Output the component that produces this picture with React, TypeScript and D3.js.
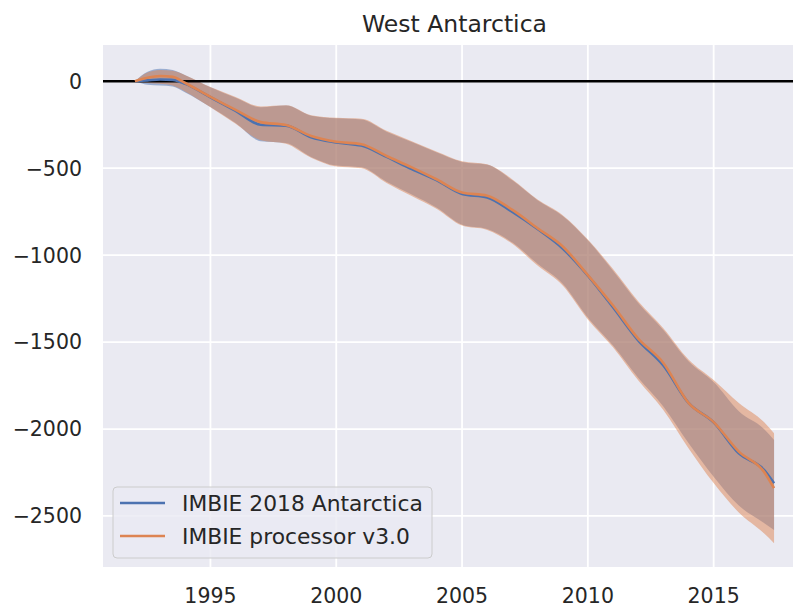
import React, { useEffect, useRef } from "react";
import * as d3 from "d3";

// time axis (decimal years)
const years = [1992, 1992.5, 1993, 1993.5, 1994, 1995, 1996, 1997, 1998, 1999, 2000, 2001, 2002, 2003, 2004, 2005, 2006, 2007, 2008, 2009, 2010, 2011, 2012, 2013, 2014, 2015, 2016, 2017, 2017.4];

// IMBIE 2018 Antarctica - cumulative mass change (Gt) with upper / lower bounds
const imbie2018 = [0, 5, 10, 8, -15, -92, -170, -250, -255, -322, -352, -370, -435, -505, -570, -648, -668, -752, -850, -962, -1118, -1300, -1490, -1635, -1850, -1962, -2140, -2235, -2312];
const imbie2018Hi = [0, 55, 72, 65, 35, -35, -95, -150, -140, -198, -213, -220, -290, -350, -410, -464, -480, -570, -684, -775, -915, -1090, -1275, -1430, -1610, -1730, -1898, -2000, -2063];
const imbie2018Lo = [0, -20, -25, -30, -65, -148, -240, -345, -355, -435, -485, -495, -578, -652, -728, -825, -850, -928, -1050, -1165, -1360, -1520, -1705, -1870, -2080, -2274, -2440, -2540, -2580];

// IMBIE processor v3.0
const processor = [0, 20, 30, 25, -10, -90, -165, -235, -252, -315, -348, -362, -430, -495, -565, -640, -658, -740, -845, -950, -1115, -1290, -1480, -1620, -1850, -1960, -2130, -2245, -2340];
const processorHi = [0, 50, 65, 60, 35, -33, -90, -145, -138, -195, -210, -215, -285, -345, -405, -460, -478, -565, -680, -770, -910, -1080, -1265, -1420, -1600, -1718, -1850, -1960, -2025];
const processorLo = [0, -10, -15, -25, -60, -150, -245, -340, -360, -440, -490, -500, -585, -660, -735, -830, -855, -935, -1060, -1175, -1370, -1530, -1720, -1890, -2110, -2311, -2480, -2600, -2657];

const xTicks = [1995, 2000, 2005, 2010, 2015];
const yTicks = [0, -500, -1000, -1500, -2000, -2500];
const seriesNames = ["IMBIE 2018 Antarctica", "IMBIE processor v3.0"];

const W = 793;
const H = 609;

const App = () => {
  const ref = useRef(null);

  useEffect(() => {
    const svg = d3.select(ref.current);
    svg.selectAll("*").remove();

    const left = 103, right = 806, top = 45, bottom = 567;

    const series = [
      { name: seriesNames[0], v: imbie2018, hi: imbie2018Hi, lo: imbie2018Lo, color: "#4C72B0" },
      { name: seriesNames[1], v: processor, hi: processorHi, lo: processorLo, color: "#DD8452" },
    ];

    const xExt = d3.extent(years);
    const xm = (xExt[1] - xExt[0]) * 0.05;
    const yMin = d3.min(series.flatMap(s => s.lo));
    const yMax = d3.max(series.flatMap(s => s.hi));
    const ym = (yMax - yMin) * 0.05;

    const x = d3.scaleLinear().domain([xExt[0] - xm, xExt[1] + xm]).range([left, right]);
    const y = d3.scaleLinear().domain([yMin - ym, yMax + ym]).range([bottom, top]);

    svg.append("rect")
      .attr("x", left).attr("y", top)
      .attr("width", right - left).attr("height", bottom - top)
      .attr("fill", "#EAEAF2");

    // grid
    svg.append("g").selectAll("line").data(xTicks).enter().append("line")
      .attr("x1", d => x(d)).attr("x2", d => x(d))
      .attr("y1", top).attr("y2", bottom)
      .attr("stroke", "#fff").attr("stroke-width", 1.8);
    svg.append("g").selectAll("line").data(yTicks).enter().append("line")
      .attr("x1", left).attr("x2", right)
      .attr("y1", d => y(d)).attr("y2", d => y(d))
      .attr("stroke", "#fff").attr("stroke-width", 1.8);

    // tick labels
    const font = "'DejaVu Sans', sans-serif";
    svg.append("g").selectAll("text").data(xTicks).enter().append("text")
      .attr("x", d => x(d)).attr("y", 603)
      .attr("text-anchor", "middle")
      .style("font-family", font).style("font-size", "20.5px").attr("fill", "#262626")
      .text(d => d);
    svg.append("g").selectAll("text").data(yTicks).enter().append("text")
      .attr("x", 82).attr("y", d => y(d))
      .attr("dy", "0.36em")
      .attr("text-anchor", "end")
      .style("font-family", font).style("font-size", "20.5px").attr("fill", "#262626")
      .text(d => d3.format("d")(d).replace("-", "\u2212"));

    // title
    svg.append("text")
      .attr("x", (left + right) / 2).attr("y", 32)
      .attr("text-anchor", "middle")
      .style("font-family", font).style("font-size", "23.5px").attr("fill", "#262626")
      .text("West Antarctica");

    const plot = svg.append("g");

    const area = d3.area()
      .curve(d3.curveMonotoneX)
      .x(d => x(d[0])).y0(d => y(d[1])).y1(d => y(d[2]));
    const line = d3.line()
      .curve(d3.curveMonotoneX)
      .x(d => x(d[0])).y(d => y(d[1]));

    series.forEach(s => {
      plot.append("path")
        .datum(years.map((t, i) => [t, s.lo[i], s.hi[i]]))
        .attr("d", area)
        .attr("fill", s.color).attr("fill-opacity", 0.5);
    });

    // zero line
    plot.append("line")
      .attr("x1", left).attr("x2", right)
      .attr("y1", y(0)).attr("y2", y(0))
      .attr("stroke", "#000").attr("stroke-width", 2.6);

    series.forEach(s => {
      plot.append("path")
        .datum(years.map((t, i) => [t, s.v[i]]))
        .attr("d", line)
        .attr("fill", "none").attr("stroke", s.color).attr("stroke-width", 2.6);
    });

    // legend
    const lg = svg.append("g");
    lg.append("rect")
      .attr("x", 113).attr("y", 487).attr("width", 319).attr("height", 71)
      .attr("rx", 4)
      .attr("fill", "#EAEAF2").attr("fill-opacity", 0.8)
      .attr("stroke", "#CCCCCC").attr("stroke-width", 1);
    series.forEach((s, i) => {
      const yy = 503 + i * 33;
      lg.append("line")
        .attr("x1", 120).attr("x2", 165).attr("y1", yy).attr("y2", yy)
        .attr("stroke", s.color).attr("stroke-width", 2.6);
      lg.append("text")
        .attr("x", 182).attr("y", yy).attr("dy", "0.36em")
        .style("font-family", font).style("font-size", "21.8px").attr("fill", "#262626")
        .text(s.name);
    });
  }, []);

  return (
    <div style={{ position: "absolute", left: 0, top: 0 }}>
      <svg ref={ref} width={W} height={H} style={{ display: "block", background: "#fff" }}></svg>
    </div>
  );
};

export default App;
